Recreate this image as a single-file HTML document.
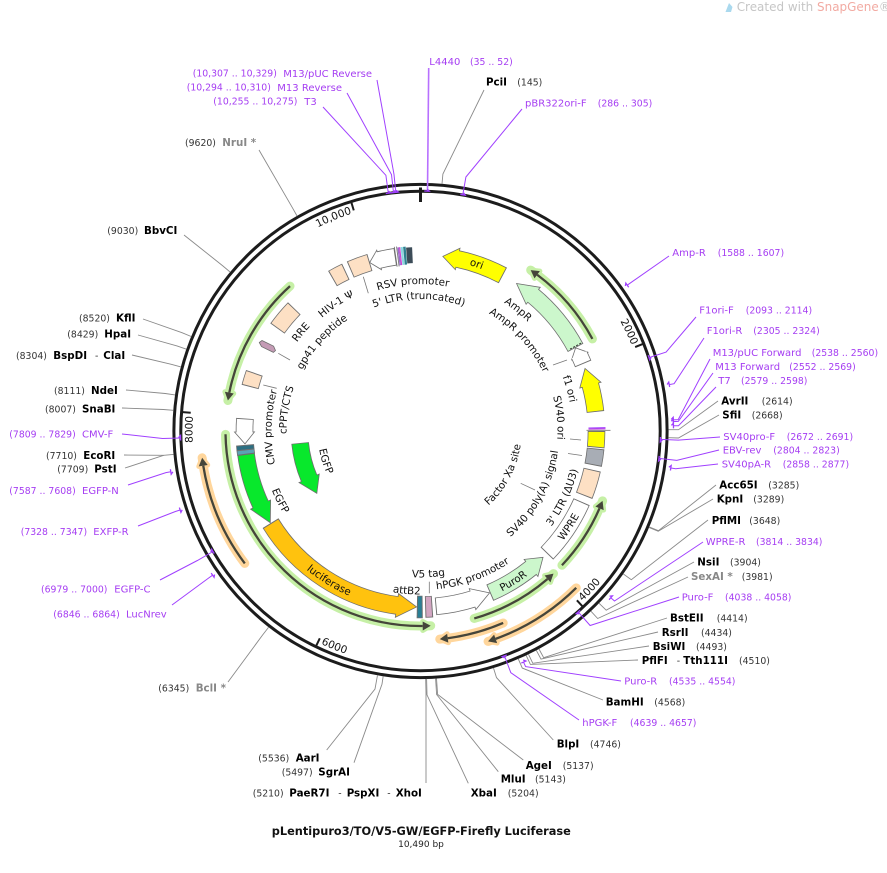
<!DOCTYPE html>
<html><head><meta charset="utf-8">
<style>
html,body{margin:0;padding:0;background:#fff;}
svg{display:block;}
text{font-family:"DejaVu Sans","Liberation Sans",sans-serif;}
.n{font-weight:bold;font-size:10.3px;fill:#000;}
.g{font-weight:bold;font-size:10.3px;fill:#888;}
.p{font-size:9.3px;fill:#333;}
.pn{font-size:10px;fill:#a53df2;}
.pp{font-size:9.3px;fill:#a53df2;}
.il{font-size:10.3px;fill:#111;}
.tk{font-size:10.5px;fill:#111;}
.el{fill:none;stroke:#8a8a8a;stroke-width:0.9;}
.pl{fill:none;stroke:#a040ff;stroke-width:1;}
.ll{fill:none;stroke:#777;stroke-width:0.8;}
.fo{fill:none;stroke:#6e6e6e;stroke-width:17.6;}
.ff{fill:none;stroke-width:16;}
.hd{stroke:#6e6e6e;stroke-width:0.8;}
.gh{fill:none;stroke:#c6f0a6;stroke-width:9;stroke-linecap:round;}
.oh{fill:none;stroke:#ffd69c;stroke-width:9;stroke-linecap:round;}
.ol{fill:none;stroke:#45453a;stroke-width:2.3;}
.pm{fill:none;stroke:#a040ff;stroke-width:1.3;}
</style></head><body>
<svg width="887" height="873" viewBox="0 0 887 873" xmlns="http://www.w3.org/2000/svg" xmlns:xlink="http://www.w3.org/1999/xlink">
<rect width="887" height="873" fill="#fff"/>
<defs>
<path id="c228" d="M0,228 A228,228 0 1 1 0,-228 A228,228 0 1 1 0,228"/>
<path id="c147" d="M0,147 A147,147 0 1 1 0,-147 A147,147 0 1 1 0,147"/>
<path id="c132" d="M0,132 A132,132 0 1 1 0,-132 A132,132 0 1 1 0,132"/>
<path id="c150" d="M0,150 A150,150 0 1 1 0,-150 A150,150 0 1 1 0,150"/>
<path id="c152" d="M0,152 A152,152 0 1 1 0,-152 A152,152 0 1 1 0,152"/>
<path id="c133" d="M0,133 A133,133 0 1 1 0,-133 A133,133 0 1 1 0,133"/>
<path id="c134" d="M0,134 A134,134 0 1 1 0,-134 A134,134 0 1 1 0,134"/>
<path id="c149" d="M0,149 A149,149 0 1 1 0,-149 A149,149 0 1 1 0,149"/>
<path id="c173" d="M0,173 A173,173 0 1 1 0,-173 A173,173 0 1 1 0,173"/>
<path id="c153" d="M0,153 A153,153 0 1 1 0,-153 A153,153 0 1 1 0,153"/>
<path id="c136" d="M0,136 A136,136 0 1 1 0,-136 A136,136 0 1 1 0,136"/>
<path id="c137" d="M0,137 A137,137 0 1 1 0,-137 A137,137 0 1 1 0,137"/>
<path id="a235" d="M0,-235 A235,235 0 1 0 0,235 A235,235 0 1 0 0,-235"/>
<path id="a139" d="M0,-139 A139,139 0 1 0 0,139 A139,139 0 1 0 0,-139"/>
<path id="a162" d="M0,-162 A162,162 0 1 0 0,162 A162,162 0 1 0 0,-162"/>
<path id="a180" d="M0,-180 A180,180 0 1 0 0,180 A180,180 0 1 0 0,-180"/>
<path id="a179" d="M0,-179.5 A179.5,179.5 0 1 0 0,179.5 A179.5,179.5 0 1 0 0,-179.5"/>
<path id="a101" d="M0,-101 A101,101 0 1 0 0,101 A101,101 0 1 0 0,-101"/>
<path id="a159" d="M0,-159 A159,159 0 1 0 0,159 A159,159 0 1 0 0,-159"/>
<path id="a146" d="M0,-146.5 A146.5,146.5 0 1 0 0,146.5 A146.5,146.5 0 1 0 0,-146.5"/>
<path id="a163" d="M0,-163.5 A163.5,163.5 0 1 0 0,163.5 A163.5,163.5 0 1 0 0,-163.5"/>
<path id="a160" d="M0,-160 A160,160 0 1 0 0,160 A160,160 0 1 0 0,-160"/>
<path id="a103" d="M0,-103 A103,103 0 1 0 0,103 A103,103 0 1 0 0,-103"/>
</defs>

<!-- logo -->
<polygon points="725.5,12 729,3 732.5,7 731,12" fill="#aad9ee"/>
<text x="736.7" y="11" font-size="12" fill="#c6c6c6" textLength="154" lengthAdjust="spacingAndGlyphs">Created with <tspan fill="#f2aaa2">SnapGene</tspan>®</text>

<g transform="translate(420.5 431)">
<!-- ring -->
<circle r="246.6" fill="none" stroke="#1c1c1c" stroke-width="3"/>
<circle r="239.7" fill="none" stroke="#1c1c1c" stroke-width="3"/>
<line x1="0" y1="-243.5" x2="0" y2="-229" stroke="#1c1c1c" stroke-width="3"/>
<g stroke="#1c1c1c" stroke-width="2">
<line transform="rotate(68.63)" x1="0" y1="-238.5" x2="0" y2="-230.5"/>
<line transform="rotate(137.27)" x1="0" y1="-238.5" x2="0" y2="-230.5"/>
<line transform="rotate(205.9)" x1="0" y1="-238.5" x2="0" y2="-230.5"/>
<line transform="rotate(274.54)" x1="0" y1="-238.5" x2="0" y2="-230.5"/>
<line transform="rotate(343.17)" x1="0" y1="-238.5" x2="0" y2="-230.5"/>
</g>
<text class="tk" text-anchor="end"><textPath xlink:href="#c228" startOffset="986.1">2000</textPath></text>
<text class="tk" text-anchor="end"><textPath xlink:href="#c228" startOffset="646.2">10,000</textPath></text>
<text class="tk" text-anchor="end"><textPath xlink:href="#c228" startOffset="372.9">8000</textPath></text>
<text class="tk" text-anchor="start"><textPath xlink:href="#a235" startOffset="916.7">4000</textPath></text>
<text class="tk" text-anchor="start"><textPath xlink:href="#a235" startOffset="635.3">6000</textPath></text>

<!-- ORF arrows -->
<circle class="gh" r="195" stroke-dasharray="93.3 2000" transform="rotate(-55.6)"/>
<circle class="gh" r="195" stroke-dasharray="76.6 2000" transform="rotate(21)"/>
<circle class="gh" r="195" stroke-dasharray="91.9 2000" transform="rotate(47)"/>
<circle class="gh" r="195" stroke-dasharray="313.1 2000" transform="rotate(87)"/>
<circle class="gh" r="195" stroke-dasharray="132.7 2000" transform="rotate(189)"/>
<circle class="oh" r="220" stroke-dasharray="115.2 2000" transform="rotate(143)"/>
<circle class="oh" r="209" stroke-dasharray="65.7 2000" transform="rotate(66.7)"/>
<circle class="oh" r="221" stroke-dasharray="104.1 2000" transform="rotate(45.2)"/>
<g fill="#c6f0a6" stroke="#c6f0a6" stroke-width="5" stroke-linejoin="round">
<polygon transform="rotate(36.75)" points="0,-199.5 0,-190.5 -8,-194.84"/>
<polygon transform="rotate(113.35)" points="0,-199.5 0,-190.5 -8,-194.84"/>
<polygon transform="rotate(139.35)" points="0,-199.5 0,-190.5 -8,-194.84"/>
<polygon transform="rotate(179.35)" points="0,-199.5 0,-190.5 -8,-194.84"/>
<polygon transform="rotate(281.35)" points="0,-199.5 0,-190.5 -8,-194.84"/>
</g>
<g fill="#ffd69c" stroke="#ffd69c" stroke-width="5" stroke-linejoin="round">
<polygon transform="rotate(260.92)" points="0,-224.5 0,-215.5 8,-219.84"/>
<polygon transform="rotate(172.51)" points="0,-213.5 0,-204.5 8,-208.84"/>
<polygon transform="rotate(160.13)" points="0,-225.5 0,-216.5 8,-220.84"/>
</g>
<circle class="ol" r="195" stroke-dasharray="85.3 2000" transform="rotate(-53.25)"/>
<circle class="ol" r="195" stroke-dasharray="68.6 2000" transform="rotate(23.35)"/>
<circle class="ol" r="195" stroke-dasharray="83.9 2000" transform="rotate(49.35)"/>
<circle class="ol" r="195" stroke-dasharray="305.1 2000" transform="rotate(89.35)"/>
<circle class="ol" r="195" stroke-dasharray="124.7 2000" transform="rotate(191.35)"/>
<circle class="ol" r="220" stroke-dasharray="107.2 2000" transform="rotate(143)"/>
<circle class="ol" r="209" stroke-dasharray="57.7 2000" transform="rotate(66.7)"/>
<circle class="ol" r="221" stroke-dasharray="96.2 2000" transform="rotate(45.2)"/>
<g fill="#45453a">
<polygon transform="rotate(36.75)" points="0,-199.5 0,-190.5 -8,-194.84"/>
<polygon transform="rotate(113.35)" points="0,-199.5 0,-190.5 -8,-194.84"/>
<polygon transform="rotate(139.35)" points="0,-199.5 0,-190.5 -8,-194.84"/>
<polygon transform="rotate(179.35)" points="0,-199.5 0,-190.5 -8,-194.84"/>
<polygon transform="rotate(281.35)" points="0,-199.5 0,-190.5 -8,-194.84"/>
<polygon transform="rotate(260.92)" points="0,-224.5 0,-215.5 8,-219.84"/>
<polygon transform="rotate(172.51)" points="0,-213.5 0,-204.5 8,-208.84"/>
<polygon transform="rotate(160.13)" points="0,-225.5 0,-216.5 8,-220.84"/>
</g>

<!-- boxes -->
<circle class="fo" r="176" stroke-dasharray="20.89 2000" transform="rotate(246.5)"/>
<circle class="ff" r="176" stroke="#fde0c4" stroke-dasharray="19.05 2000" transform="rotate(246.8)"/>
<circle class="fo" r="176" stroke-dasharray="15.05 2000" transform="rotate(240)"/>
<circle class="ff" r="176" stroke="#fde0c4" stroke-dasharray="13.21 2000" transform="rotate(240.3)"/>
<circle class="fo" r="176" stroke-dasharray="26.42 2000" transform="rotate(215.6)"/>
<circle class="ff" r="176" stroke="#fde0c4" stroke-dasharray="24.57 2000" transform="rotate(215.9)"/>
<circle class="fo" r="176" stroke-dasharray="14.74 2000" transform="rotate(194.5)"/>
<circle class="ff" r="176" stroke="#fde0c4" stroke-dasharray="12.90 2000" transform="rotate(194.8)"/>
<circle class="fo" r="176" stroke-dasharray="16.59 2000" transform="rotate(0)"/>
<circle class="ff" r="176" stroke="#ffff00" stroke-dasharray="14.74 2000" transform="rotate(0.3)"/>
<circle class="fo" r="176" stroke-dasharray="16.89 2000" transform="rotate(5.7)"/>
<circle class="ff" r="176" stroke="#a8adb5" stroke-dasharray="15.05 2000" transform="rotate(6)"/>
<circle class="fo" r="176" stroke-dasharray="27.34 2000" transform="rotate(12.7)"/>
<circle class="ff" r="176" stroke="#fde0c4" stroke-dasharray="25.50 2000" transform="rotate(13)"/>
<circle class="fo" r="176" stroke-dasharray="62.66 2000" transform="rotate(23.7)"/>
<circle class="ff" r="176" stroke="#ffffff" stroke-dasharray="60.82 2000" transform="rotate(24)"/>
<circle class="fo" r="176" style="stroke-width:21.6" stroke-dasharray="7.37 2000" transform="rotate(86.1)"/>
<circle class="ff" r="176" style="stroke-width:20" stroke="#d2a6c2" stroke-dasharray="5.53 2000" transform="rotate(86.4)"/>
<circle class="fo" r="176" style="stroke-width:22.6" stroke-dasharray="5.84 2000" transform="rotate(89.3)"/>
<circle class="ff" r="176" style="stroke-width:21" stroke="#2a7f95" stroke-dasharray="3.99 2000" transform="rotate(89.6)"/>
<circle class="fo" r="176" style="stroke-width:18" stroke-dasharray="5.53 2000" transform="rotate(173.7)"/>
<circle class="ff" r="176" style="stroke-width:16.5" stroke="#2c6f82" stroke-dasharray="3.69 2000" transform="rotate(174)"/>
<circle class="fo" r="176" style="stroke-width:18" stroke-dasharray="5.22 2000" transform="rotate(172.3)"/>
<circle class="ff" r="176" style="stroke-width:16.5" stroke="#5aa3b6" stroke-dasharray="3.38 2000" transform="rotate(172.6)"/>

<!-- small features near 89 deg -->
<line transform="rotate(89.0)" x1="0" y1="-185" x2="0" y2="-168" stroke="#a040ff" stroke-width="1.2"/>
<line transform="rotate(89.35)" x1="0" y1="-185" x2="0" y2="-168" stroke="#c040e0" stroke-width="1"/>
<line transform="rotate(89.8)" x1="0" y1="-190" x2="0" y2="-166" stroke="#888" stroke-width="1"/>

<!-- stripes near RSV -->
<line transform="rotate(351.9)" x1="0" y1="-186" x2="0" y2="-166" stroke="#777" stroke-width="0.9"/>
<line transform="rotate(352.6)" x1="0" y1="-186" x2="0" y2="-166" stroke="#777" stroke-width="0.9"/>
<circle class="ff" r="176" style="stroke-width:18" stroke="#9c6ad0" stroke-dasharray="1.54 2000" transform="rotate(262.8)"/>
<circle class="ff" r="176" style="stroke-width:18" stroke="#d040d0" stroke-dasharray="1.23 2000" transform="rotate(263.3)"/>
<circle class="ff" r="176" style="stroke-width:18" stroke="#8ad8e0" stroke-dasharray="2.15 2000" transform="rotate(263.8)"/>
<circle class="ff" r="176" style="stroke-width:18" stroke="#2f8090" stroke-dasharray="2.46 2000" transform="rotate(264.6)"/>
<circle class="ff" r="176" style="stroke-width:16" stroke="#3c4c58" stroke-dasharray="5.84 2000" transform="rotate(265.5)"/>

<!-- arrows -->
<!-- ori -->
<circle class="fo" r="176" stroke-dasharray="48.23 2000" transform="rotate(-77.8)"/>
<polygon class="hd" fill="#ffff00" transform="rotate(12.2)" points="0,-187 0,-165 -15.05,-175.36"/>
<circle class="ff" r="176" stroke="#ffff00" stroke-dasharray="48.84 2000" transform="rotate(-78.3)"/>
<!-- AmpR -->
<circle class="fo" r="176" stroke-dasharray="67.58 2000" transform="rotate(-50.2)"/>
<polygon class="hd" fill="#ccf7cc" transform="rotate(39.8)" points="0,-187 0,-165 -20.6,-174.8"/>
<circle class="ff" r="176" stroke="#ccf7cc" stroke-dasharray="68.19 2000" transform="rotate(-50.7)"/>
<line transform="rotate(61.3)" x1="0" y1="-183" x2="0" y2="-169" stroke="#333" stroke-width="1" stroke-dasharray="2 1.5"/>
<!-- AmpR promoter -->
<circle class="fo" r="176" stroke-dasharray="8.60 2000" transform="rotate(-25.2)"/>
<polygon class="hd" fill="#ffffff" transform="rotate(64.8)" points="0,-185 0,-167 -9.2,-175.76"/>
<circle class="ff" r="176" stroke="#ffffff" stroke-dasharray="9.22 2000" transform="rotate(-25.7)"/>
<!-- f1 ori -->
<circle class="fo" r="176" stroke-dasharray="27.34 2000" transform="rotate(-15.1)"/>
<polygon class="hd" fill="#ffff00" transform="rotate(74.9)" points="0,-187 0,-165 -17.5,-175.13"/>
<circle class="ff" r="176" stroke="#ffff00" stroke-dasharray="27.95 2000" transform="rotate(-15.6)"/>
<!-- PuroR -->
<circle class="fo" r="176" stroke-dasharray="48.23 2000" transform="rotate(51.1)"/>
<polygon class="hd" fill="#ccf7cc" transform="rotate(141.1)" points="0,-187 0,-165 -16,-175.27"/>
<circle class="ff" r="176" stroke="#ccf7cc" stroke-dasharray="48.84 2000" transform="rotate(50.6)"/>
<!-- hPGK -->
<circle class="fo" r="176" stroke-dasharray="37.78 2000" transform="rotate(72.8)"/>
<polygon class="hd" fill="#ffffff" transform="rotate(162.8)" points="0,-187 0,-165 -18.1,-175.07"/>
<circle class="ff" r="176" stroke="#ffffff" stroke-dasharray="38.40 2000" transform="rotate(72.3)"/>
<!-- luciferase -->
<circle class="fo" r="176" style="stroke-width:18.6" stroke-dasharray="155.74 2000" transform="rotate(97.7)"/>
<polygon class="hd" fill="#ffc20e" transform="rotate(187.7)" points="0,-188 0,-164 -19.7,-174.9"/>
<circle class="ff" r="176" style="stroke-width:17" stroke="#ffc20e" stroke-dasharray="156.35 2000" transform="rotate(97.2)"/>
<!-- EGFP -->
<circle class="fo" r="176" stroke-dasharray="52.84 2000" transform="rotate(155.3)"/>
<polygon class="hd" fill="#08e82c" transform="rotate(245.3)" points="0,-187 0,-165 -20.6,-174.8"/>
<circle class="ff" r="176" stroke="#08e82c" stroke-dasharray="53.45 2000" transform="rotate(154.8)"/>
<!-- CMV -->
<circle class="fo" r="176" stroke-dasharray="13.52 2000" transform="rotate(179.7)"/>
<polygon class="hd" fill="#ffffff" transform="rotate(269.7)" points="0,-186 0,-166 -12,-175.59"/>
<circle class="ff" r="176" stroke="#ffffff" stroke-dasharray="14.13 2000" transform="rotate(179.2)"/>
<!-- RSV -->
<circle class="fo" r="176" stroke-dasharray="16.89 2000" transform="rotate(256.4)"/>
<polygon class="hd" fill="#ffffff" transform="rotate(346.4)" points="0,-186 0,-166 -9.8,-175.73"/>
<circle class="ff" r="176" stroke="#ffffff" stroke-dasharray="17.51 2000" transform="rotate(255.9)"/>
<!-- inner EGFP -->
<circle class="fo" r="121" stroke-dasharray="36.54 2000" transform="rotate(157)"/>
<polygon class="hd" fill="#08e82c" transform="rotate(247)" points="0,-132 0,-110 -16.9,-119.8"/>
<circle class="ff" r="121" stroke="#08e82c" stroke-dasharray="36.96 2000" transform="rotate(156.5)"/>

<!-- inner labels -->
<text class="il" text-anchor="middle"><textPath xlink:href="#c147" startOffset="454.1">RSV promoter</textPath></text>
<text class="il" text-anchor="middle"><textPath xlink:href="#c132" startOffset="412.8">5' LTR (truncated)</textPath></text>
<text class="il" text-anchor="middle"><textPath xlink:href="#c150" startOffset="383.0">HIV-1 Ψ</textPath></text>
<text class="il" text-anchor="middle"><textPath xlink:href="#c152" startOffset="343.6">RRE</textPath></text>
<text class="il" text-anchor="middle"><textPath xlink:href="#c133" startOffset="306.6">gp41 peptide</textPath></text>
<text class="il" text-anchor="middle"><textPath xlink:href="#c134" startOffset="231.3">cPPT/CTS</textPath></text>
<text class="il" text-anchor="middle"><textPath xlink:href="#c149" startOffset="237.7">CMV promoter</textPath></text>
<text class="il" text-anchor="middle"><textPath xlink:href="#c173" startOffset="599.4">ori</textPath></text>
<text class="il" text-anchor="middle"><textPath xlink:href="#c153" startOffset="584.0">AmpR</textPath></text>
<text class="il" text-anchor="middle"><textPath xlink:href="#c136" startOffset="539.5">AmpR promoter</textPath></text>
<text class="il" text-anchor="middle"><textPath xlink:href="#c152" startOffset="674.1">f1 ori</textPath></text>
<text class="il" text-anchor="middle"><textPath xlink:href="#c137" startOffset="632.2">SV40 ori</textPath></text>
<text class="il" text-anchor="middle"><textPath xlink:href="#a139" startOffset="584.4">SV40 poly(A) signal</textPath></text>
<text class="il" text-anchor="middle"><textPath xlink:href="#a162" startOffset="692.4">3' LTR (ΔU3)</textPath></text>
<text class="il" text-anchor="middle"><textPath xlink:href="#a180" startOffset="744.6">WPRE</textPath></text>
<text class="il" text-anchor="middle"><textPath xlink:href="#a101" startOffset="426.4">Factor Xa site</textPath></text>
<text class="il" text-anchor="middle"><textPath xlink:href="#a180" startOffset="664.8">PuroR</textPath></text>
<text class="il" text-anchor="middle"><textPath xlink:href="#a159" startOffset="554.7">hPGK promoter</textPath></text>
<text class="il" text-anchor="middle"><textPath xlink:href="#a146" startOffset="468.2">V5 tag</textPath></text>
<text class="il" text-anchor="middle"><textPath xlink:href="#a163" startOffset="499.4">attB2</textPath></text>
<text class="il" text-anchor="middle"><textPath xlink:href="#a179" startOffset="465.2">luciferase</textPath></text>
<text class="il" text-anchor="middle"><textPath xlink:href="#a160" startOffset="325.1">EGFP</textPath></text>
<text class="il" text-anchor="middle"><textPath xlink:href="#a103" startOffset="193.3">EGFP</textPath></text>
</g>

<!-- gp41 -->
<polygon points="259.3,342.5 261.5,346.6 273.4,352.4 275.5,350.5 273.6,346.2 262,340.5" fill="#c49bb5" stroke="#6e6e6e" stroke-width="0.8"/>

<!-- inner leader lines -->
<line class="ll" x1="363.3" y1="276.7" x2="368.3" y2="293.3"/>
<line class="ll" x1="278.3" y1="353.3" x2="290" y2="360"/>
<line class="ll" x1="263.3" y1="385" x2="276.7" y2="388.3"/>
<line class="ll" x1="553" y1="365" x2="567" y2="360"/>
<line class="ll" x1="570" y1="439" x2="581" y2="440"/>
<line class="ll" x1="568" y1="453.5" x2="582" y2="455.5"/>
<line class="ll" x1="520.7" y1="483.3" x2="535" y2="490"/>
<line class="ll" x1="429.3" y1="581.7" x2="429.3" y2="593.3"/>

<!-- enzyme leader lines -->
<polyline class="el" points="259,150 292.1,207.2 297,215.9"/>
<polyline class="el" points="184,235 222.5,265.6 230.1,272"/>
<polyline class="el" points="143,319 182,332.7 191.2,336.5"/>
<polyline class="el" points="138,335 177,345.9 186.4,349.2"/>
<polyline class="el" points="132,355 171.3,364.3 180.9,366.9"/>
<polyline class="el" points="126,390 165.2,393.5 175.1,394.9"/>
<polyline class="el" points="122,408 163.4,409.5 173.4,410.3"/>
<polyline class="el" points="124,455 163.7,455.3 173.6,454.4"/>
<polyline class="el" points="125,468 163.7,455.3"/>
<polyline class="el" points="228,682 262.6,635 268.7,627.1"/>
<polyline class="el" points="326.7,750 375,689 377.5,675.2"/>
<polyline class="el" points="354,762.7 382,684.1 383.2,676.2"/>
<polyline class="el" points="426,783 426,693 425.7,679"/>
<polyline class="el" points="468.3,783.3 427,694.9 426.6,678.9"/>
<polyline class="el" points="498.3,771.7 436.6,694.5 435.6,678.5"/>
<polyline class="el" points="523.3,760 437.6,694.4 436.5,678.5"/>
<polyline class="el" points="553.3,740 496.5,677.6 493.5,668"/>
<polyline class="el" points="603,700 522.3,668.1 518.3,658.9"/>
<polyline class="el" points="638,660 530.4,664.4 526.2,655.4"/>
<polyline class="el" points="649,646 532.8,663.3 528.5,654.3"/>
<polyline class="el" points="658,632 541,659.1 536.3,650.3"/>
<polyline class="el" points="667,618 543.7,657.7 538.9,648.9"/>
<polyline class="el" points="688,577 597.7,618.5 590.9,611.2"/>
<polyline class="el" points="694,562 606.2,610.2 599,603.2"/>
<polyline class="el" points="708,520 631.3,579.7 623.2,573.9"/>
<polyline class="el" points="713,499 658.2,531.3 649,527.4"/>
<polyline class="el" points="716,485 658.4,530.7 649.2,526.9"/>
<polyline class="el" points="719,415 678.4,438 668.4,437.7"/>
<polyline class="el" points="718,401 678.5,429.7 668.5,429.7"/>
<polyline class="el" points="484,90 442.9,174 442,183.9"/>

<!-- primer leader lines -->
<line x1="428.7" y1="68" x2="427.5" y2="191" stroke="#b870ff" stroke-width="1.6"/>
<polyline class="pl" points="522,109 465.9,177 462.8,194.7"/>
<polyline class="pl" points="669,256 631.3,282.3 627.2,285.2"/>
<polyline class="pl" points="696,317 666.1,352.1 649,357.6"/>
<polyline class="pl" points="704,338 674.1,383.7 669.2,384.6"/>
<polyline class="pl" points="710,359 678.2,419.6 673.2,419.9"/>
<polyline class="pl" points="713,373 678.3,421.4 673.3,421.6"/>
<polyline class="pl" points="716,387 678.5,425.7 673.5,425.8"/>
<polyline class="pl" points="720,437 678.3,440.1 660.4,439.4"/>
<polyline class="pl" points="719,450 676.8,460.4 658.9,458.4"/>
<polyline class="pl" points="718,464 675.7,468.7 670.8,468"/>
<polyline class="pl" points="703,542 614.5,601 610.8,597.7"/>
<polyline class="pl" points="679,597 590.1,625.5 578.2,611.9"/>
<polyline class="pl" points="621,681 525.6,666.6 523.5,662.1"/>
<polyline class="pl" points="579,720 510.8,672.7 504.5,655.8"/>
<polyline class="pl" points="172,605 208.5,578.1 212.6,575.2"/>
<polyline class="pl" points="160,580 197.4,560.5 213,551.5"/>
<polyline class="pl" points="138,526 175.4,511.5 180.1,510"/>
<polyline class="pl" points="128,485 165.9,472.6 170.8,471.8"/>
<polyline class="pl" points="122,434 162.6,438.5 180.6,438"/>
<polyline class="pl" points="323,107 385.9,175.3 388.3,193.2"/>
<polyline class="pl" points="347,93 391.5,174.6 393.5,192.5"/>
<polyline class="pl" points="377,80 394,174.4 395.8,192.3"/>

<!-- primer marks -->
<g transform="translate(420.5 431)">
<path class="pm" transform="rotate(1.49)" d="M-2.5,-240 H2.5 l-2,-2"/>
<path class="pm" transform="rotate(10.14)" d="M-2.5,-240 H2.5 l-2,-2"/>
<path class="pm" transform="rotate(54.82)" d="M2.5,-253 H-2.5 l2,2"/>
<path class="pm" transform="rotate(72.19)" d="M-2.5,-240 H2.5 l-2,-2"/>
<path class="pm" transform="rotate(79.43)" d="M2.5,-253 H-2.5 l2,2"/>
<path class="pm" transform="rotate(87.48)" d="M2.5,-253 H-2.5 l2,2"/>
<path class="pm" transform="rotate(87.87)" d="M2.5,-253 H-2.5 l2,2"/>
<path class="pm" transform="rotate(88.83)" d="M2.5,-253 H-2.5 l2,2"/>
<path class="pm" transform="rotate(92.02)" d="M-2.5,-240 H2.5 l-2,-2"/>
<path class="pm" transform="rotate(96.55)" d="M-2.5,-240 H2.5 l-2,-2"/>
<path class="pm" transform="rotate(98.41)" d="M2.5,-253 H-2.5 l2,2"/>
<path class="pm" transform="rotate(131.24)" d="M2.5,-253 H-2.5 l2,2"/>
<path class="pm" transform="rotate(138.92)" d="M-2.5,-240 H2.5 l-2,-2"/>
<path class="pm" transform="rotate(155.96)" d="M2.5,-253 H-2.5 l2,2"/>
<path class="pm" transform="rotate(159.51)" d="M-2.5,-240 H2.5 l-2,-2"/>
<path class="pm" transform="rotate(235.25)" d="M2.5,-253 H-2.5 l2,2"/>
<path class="pm" transform="rotate(239.87)" d="M-2.5,-240 H2.5 l-2,-2"/>
<path class="pm" transform="rotate(251.81)" d="M2.5,-253 H-2.5 l2,2"/>
<path class="pm" transform="rotate(260.73)" d="M2.5,-253 H-2.5 l2,2"/>
<path class="pm" transform="rotate(268.33)" d="M-2.5,-240 H2.5 l-2,-2"/>
<path class="pm" transform="rotate(352.28)" d="M-2.5,-240 H2.5 l-2,-2"/>
<path class="pm" transform="rotate(353.55)" d="M-2.5,-240 H2.5 l-2,-2"/>
<path class="pm" transform="rotate(354.10)" d="M-2.5,-240 H2.5 l-2,-2"/>
</g>

<!-- top labels -->
<text class="pp" x="192.7" y="76.7">(10,307 .. 10,329)</text>
<text class="pn" x="283.3" y="77">M13/pUC Reverse</text>
<text class="pp" x="186.7" y="90.7">(10,294 .. 10,310)</text>
<text class="pn" x="277.3" y="91">M13 Reverse</text>
<text class="pp" x="213.3" y="104.7">(10,255 .. 10,275)</text>
<text class="pn" x="304.3" y="105">T3</text>
<text class="pn" x="429.3" y="65">L4440</text>
<text class="pp" x="470" y="65">(35 .. 52)</text>
<text class="n" x="486" y="85.7">PciI</text>
<text class="p" x="517.3" y="85.7">(145)</text>
<text class="pn" x="525" y="106.7">pBR322ori-F</text>
<text class="pp" x="597.7" y="106.7">(286 .. 305)</text>
<text class="p" x="185" y="146">(9620)</text>
<text class="g" x="222.3" y="146">NruI *</text>

<!-- left labels -->
<text class="p" x="107.3" y="234">(9030)</text>
<text class="n" x="144" y="234">BbvCI</text>
<text class="p" x="79" y="321.7">(8520)</text>
<text class="n" x="116" y="321.7">KflI</text>
<text class="p" x="67.3" y="337.3">(8429)</text>
<text class="n" x="104.3" y="337.3">HpaI</text>
<text class="p" x="16" y="359">(8304)</text>
<text class="n" x="53.3" y="359">BspDI</text>
<text class="p" x="95" y="359">-</text>
<text class="n" x="103.3" y="359">ClaI</text>
<text class="p" x="54" y="394">(8111)</text>
<text class="n" x="91" y="394">NdeI</text>
<text class="p" x="45" y="412.7">(8007)</text>
<text class="n" x="82" y="412.7">SnaBI</text>
<text class="pp" x="9.3" y="437.3">(7809 .. 7829)</text>
<text class="pn" x="82" y="437.3">CMV-F</text>
<text class="p" x="46" y="459">(7710)</text>
<text class="n" x="83.3" y="459">EcoRI</text>
<text class="p" x="57.3" y="472.7">(7709)</text>
<text class="n" x="94.3" y="472.7">PstI</text>
<text class="pp" x="9.3" y="494">(7587 .. 7608)</text>
<text class="pn" x="82" y="494">EGFP-N</text>
<text class="pp" x="20.7" y="535">(7328 .. 7347)</text>
<text class="pn" x="93.3" y="535">EXFP-R</text>
<text class="pp" x="41" y="592.3">(6979 .. 7000)</text>
<text class="pn" x="114.3" y="592.3">EGFP-C</text>
<text class="pp" x="53.3" y="617.3">(6846 .. 6864)</text>
<text class="pn" x="126" y="617.3">LucNrev</text>

<!-- bottom labels -->
<text class="p" x="158.3" y="691.7">(6345)</text>
<text class="g" x="195.7" y="691.7">BclI *</text>
<text class="p" x="258.3" y="761.7">(5536)</text>
<text class="n" x="295.7" y="761.7">AarI</text>
<text class="p" x="281.7" y="775.7">(5497)</text>
<text class="n" x="318.3" y="775.7">SgrAI</text>
<text class="p" x="252.7" y="796.7">(5210)</text>
<text class="n" x="289.3" y="796.7">PaeR7I</text>
<text class="p" x="338.3" y="796.7">-</text>
<text class="n" x="346.7" y="796.7">PspXI</text>
<text class="p" x="387.3" y="796.7">-</text>
<text class="n" x="395.7" y="796.7">XhoI</text>
<text class="n" x="470.7" y="796.7">XbaI</text>
<text class="p" x="507.7" y="796.7">(5204)</text>
<text class="n" x="500.7" y="782.7">MluI</text>
<text class="p" x="535" y="782.7">(5143)</text>
<text class="n" x="525.7" y="769">AgeI</text>
<text class="p" x="562.7" y="769">(5137)</text>
<text class="n" x="556.7" y="747.7">BlpI</text>
<text class="p" x="590" y="747.7">(4746)</text>
<text class="pn" x="582.3" y="726">hPGK-F</text>
<text class="pp" x="630" y="726">(4639 .. 4657)</text>
<text class="n" x="605.7" y="705.3">BamHI</text>
<text class="p" x="654.3" y="705.3">(4568)</text>
<text class="pn" x="624.3" y="684.3">Puro-R</text>
<text class="pp" x="669" y="684.3">(4535 .. 4554)</text>
<text class="n" x="641.7" y="664">PflFI</text>
<text class="p" x="676.7" y="664">-</text>
<text class="n" x="683.3" y="664">Tth111I</text>
<text class="p" x="739" y="664">(4510)</text>
<text class="n" x="652.7" y="650">BsiWI</text>
<text class="p" x="696" y="650">(4493)</text>
<text class="n" x="661.7" y="636">RsrII</text>
<text class="p" x="701" y="636">(4434)</text>
<text class="n" x="670" y="621.7">BstEII</text>
<text class="p" x="716.7" y="621.7">(4414)</text>
<text class="pn" x="681.7" y="600.7">Puro-F</text>
<text class="pp" x="725" y="600.7">(4038 .. 4058)</text>
<text class="g" x="691" y="580">SexAI *</text>
<text class="p" x="741.7" y="580">(3981)</text>
<text class="n" x="697.3" y="565.7">NsiI</text>
<text class="p" x="730" y="565.7">(3904)</text>
<text class="pn" x="705.7" y="545">WPRE-R</text>
<text class="pp" x="756" y="545">(3814 .. 3834)</text>
<text class="n" x="711.7" y="524">PflMI</text>
<text class="p" x="749.3" y="524">(3648)</text>
<text class="n" x="716.7" y="502.7">KpnI</text>
<text class="p" x="753.3" y="502.7">(3289)</text>
<text class="n" x="719.3" y="488.3">Acc65I</text>
<text class="p" x="768.3" y="488.3">(3285)</text>

<!-- right upper labels -->
<text class="pn" x="672.3" y="256">Amp-R</text>
<text class="pp" x="717.7" y="256">(1588 .. 1607)</text>
<text class="pn" x="699.3" y="313.3">F1ori-F</text>
<text class="pp" x="745.7" y="313.3">(2093 .. 2114)</text>
<text class="pn" x="706.7" y="334">F1ori-R</text>
<text class="pp" x="753.3" y="334">(2305 .. 2324)</text>
<text class="pn" x="712.7" y="356">M13/pUC Forward</text>
<text class="pp" x="811.7" y="356">(2538 .. 2560)</text>
<text class="pn" x="715.3" y="370">M13 Forward</text>
<text class="pp" x="789.3" y="370">(2552 .. 2569)</text>
<text class="pn" x="718.3" y="384">T7</text>
<text class="pp" x="741" y="384">(2579 .. 2598)</text>
<text class="n" x="721.3" y="404.3">AvrII</text>
<text class="p" x="761.7" y="404.3">(2614)</text>
<text class="n" x="722.3" y="418.3">SfiI</text>
<text class="p" x="751.7" y="418.3">(2668)</text>
<text class="pn" x="723.3" y="440">SV40pro-F</text>
<text class="pp" x="786.7" y="440">(2672 .. 2691)</text>
<text class="pn" x="722.7" y="453.3">EBV-rev</text>
<text class="pp" x="773.3" y="453.3">(2804 .. 2823)</text>
<text class="pn" x="721.7" y="467.3">SV40pA-R</text>
<text class="pp" x="782.7" y="467.3">(2858 .. 2877)</text>

<!-- title -->
<text x="421.3" y="835" text-anchor="middle" font-weight="bold" font-size="11.5" fill="#111" textLength="299" lengthAdjust="spacingAndGlyphs">pLentipuro3/TO/V5-GW/EGFP-Firefly Luciferase</text>
<text x="421" y="847" text-anchor="middle" font-size="9" fill="#222">10,490 bp</text>
</svg>
</body></html>
